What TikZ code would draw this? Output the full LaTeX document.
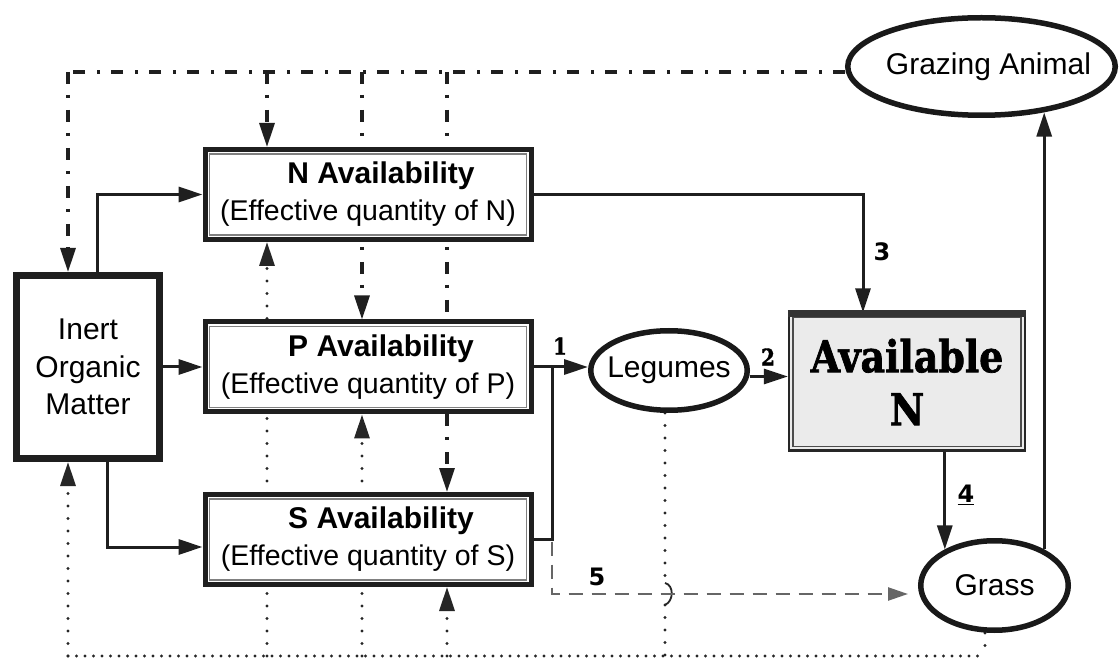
\documentclass[tikz,border=0pt]{standalone}
\usepackage{fontspec}
\setmainfont{Liberation Sans}
\newfontfamily\slabfont[FakeStretch=0.86, BoldFeatures={FakeBold=1.6}]{DejaVu Serif}
\newfontfamily\numfont{DejaVu Sans}
\usetikzlibrary{arrows.meta,shapes.geometric,backgrounds}

\tikzset{
  tip/.style={-{Triangle[length=24pt,width=15pt]}},
  solidline/.style={draw=black!88, line width=3pt},
  dashdot/.style={draw=black!88, line width=3.2pt, dash pattern=on 12pt off 11pt on 3pt off 12pt},
  dotv/.style={draw=black!85, line width=3.2pt, line cap=round, dash pattern=on 0pt off 12.5pt},
  doth/.style={draw=black!85, line width=3.2pt, line cap=round, dash pattern=on 0pt off 8.5pt},
  dashg/.style={draw=black!60, line width=2.4pt, dash pattern=on 14pt off 9pt},
  availbox/.style={rectangle, draw=black!88, line width=5pt, fill=white,
    minimum width=326pt, minimum height=90pt, inner sep=0pt, align=center,
    font=\fontsize{28.5}{37}\selectfont},
  innerline/.style={draw=black!50, line width=1.5pt},
  pool/.style={ellipse, draw=black!90, line width=5.5pt, fill=white, inner sep=0pt,
    label={[font=\fontsize{30}{36}\selectfont]center:#1}},
  num/.style={font=\numfont\bfseries\fontsize{24}{24}\selectfont},
  slabnum/.style={font=\slabfont\bfseries\fontsize{23}{23}\selectfont},
}

\begin{document}
\begin{tikzpicture}[x=1pt,y=-1pt]
\useasboundingbox (0,0) rectangle (1120,660);

% ---- stores and pools ----
\node[rectangle, draw=black!88, line width=7pt, fill=white, minimum width=143pt,
      minimum height=183pt, inner sep=0pt, align=center,
      font=\fontsize{30}{37.5}\selectfont] (inert) at (88,367) {Inert\\Organic\\Matter};

\node[availbox] (nbox) at (368,194.5)
  {\hspace*{26pt}\textbf{\fontsize{30}{37}\selectfont N Availability}\\(Effective quantity of N)};
\node[availbox] (pbox) at (368,367)
  {\hspace*{26pt}\textbf{\fontsize{30}{37}\selectfont P Availability}\\(Effective quantity of P)};
\node[availbox] (sbox) at (368,539.5)
  {\hspace*{26pt}\textbf{\fontsize{30}{37}\selectfont S Availability}\\(Effective quantity of S)};
\foreach \b in {nbox,pbox,sbox}
  \draw[innerline] ([shift={(7pt,-7pt)}]\b.north west) rectangle ([shift={(-7pt,7pt)}]\b.south east);

\node[rectangle, draw=black!85, line width=2.2pt, fill=black!8, minimum width=236pt,
      minimum height=137pt, inner sep=0pt, align=center,
      font=\slabfont\bfseries\fontsize{44}{53}\selectfont] (avail) at (907,382) {Available\\N};
\draw[innerline, draw=black!70] ([shift={(5pt,-5pt)}]avail.north west) rectangle ([shift={(-5pt,5pt)}]avail.south east);
\draw[draw=black!80, line width=7pt] ([yshift=-1pt]avail.north west) -- ([yshift=-1pt]avail.north east);

\node[pool={\hspace*{14pt}Grazing Animal}, minimum width=267.5pt, minimum height=97.5pt] (graze) at (981.5,66.5) {};
\node[pool=Legumes, minimum width=156.5pt, minimum height=79.5pt] (legumes) at (669,370.5) {};
\node[pool=Grass, minimum width=147.5pt, minimum height=89.5pt] (grass) at (994.5,585.5) {};

% ---- flow labels ----
\node[slabnum] (l1) at (560,346) {1};
\node[slabnum] (l2) at (768,357) {2};
\node[num] (l3) at (882,252) {3};
\node[num] (l4) at (966,495) {\underline{4}};
\node[num] (l5) at (597,577) {5};

% ---- routing points ----
\coordinate (tl) at (68,72);
\coordinate (tA) at (267,72);
\coordinate (tB) at (362,72);
\coordinate (tC) at (447,72);
\coordinate (bl) at (68,656);
\coordinate (bA) at (267,656);
\coordinate (bB) at (362,656);
\coordinate (bC) at (447,656);
\coordinate (bL) at (665,656);
\coordinate (bG) at (985,656);
\coordinate (jS) at (107,547);
\coordinate (x3) at (863,195);
\coordinate (jL) at (552,367);
\coordinate (hop) at (665,594);

\begin{scope}[on background layer]
\fill[white] (0,0) rectangle (1120,660);

% feedback from the grazing animal
\draw[dashdot] (tl -| graze.west) -- (tl);
\draw[dashdot,tip] (tl) -- (tl |- inert.north);
\draw[dashdot,tip] (tA) -- (tA |- nbox.north);
\draw[dashdot,tip] (tB) -- (tB |- pbox.north);
\draw[dashdot,tip] (tC) -- (tC |- sbox.north);

% return from grass and legumes
\draw[doth] (bl) -- (bG);
\draw[dotv,tip] (bl) -- (bl |- inert.south);
\draw[dotv,tip] (bA) -- (bA |- nbox.south);
\draw[dotv,tip] (bB) -- (bB |- pbox.south);
\draw[dotv,tip] (bC) -- (bC |- sbox.south);
\draw[dotv] (bG |- grass.south) -- (bG);
\draw[dotv] (bL |- legumes.south) -- ([yshift=11pt]hop);
\draw[dotv] ([yshift=-11pt]hop) -- (bL);
\draw[draw=black!85, line width=1.8pt] ([yshift=11pt]hop) .. controls +(9pt,-2pt) and +(9pt,4pt) .. ([yshift=-11pt]hop);

% nutrient flows
\draw[solidline,tip] ([xshift=9pt]inert.north) |- (nbox.west);
\draw[solidline,tip] (inert.east) -- (pbox.west);
\draw[solidline,tip] (inert.south -| jS) -- (jS) -- (jS -| sbox.west);
\draw[solidline,tip] (nbox.east |- x3) -- (x3) -- (x3 |- avail.north);
\draw[solidline,tip] (pbox.east) -- (pbox.east -| legumes.west);
\draw[solidline] (sbox.east) -| (jL);
\draw[solidline,tip] ([yshift=-6pt]legumes.east) -- ([yshift=-6pt]legumes.east -| avail.west);
\draw[solidline,tip] (avail.south -| grass.144) -- (grass.144);
\draw[solidline,tip] (grass.36) -- (grass.36 |- graze.-37);

% direct transfer to grass
\draw[dashg,-{Triangle[length=20pt,width=13pt]}] ([yshift=-2pt]sbox.east -| jL) -- (jL |- hop) -- ([xshift=-10pt]hop -| grass.west);
\end{scope}
\end{tikzpicture}
\end{document}
